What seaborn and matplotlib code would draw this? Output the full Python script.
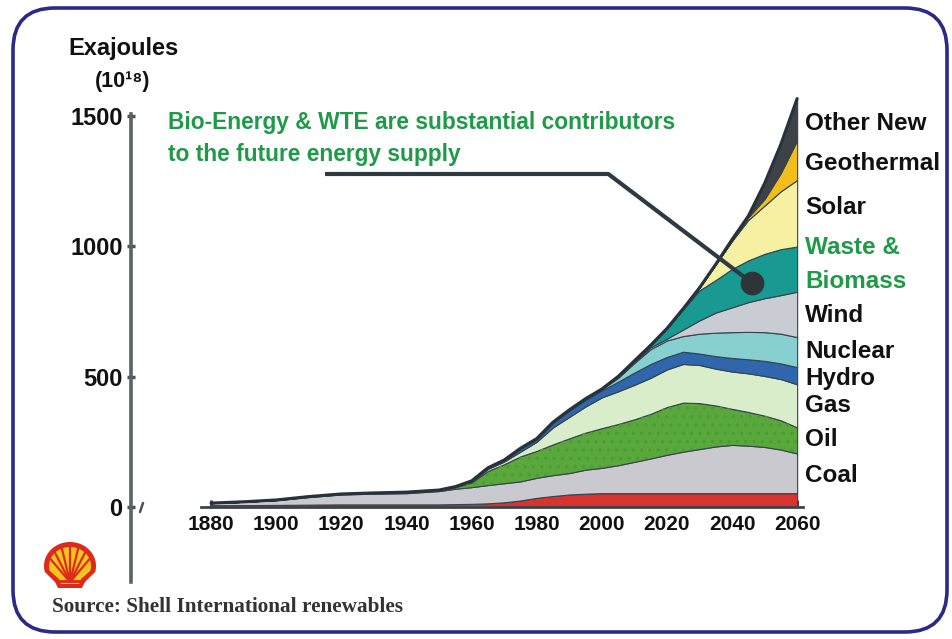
import matplotlib
matplotlib.use("Agg")
import matplotlib.pyplot as plt
import numpy as np
import pandas as pd
import seaborn as sns
from matplotlib.patches import FancyBboxPatch, Polygon

# ---- data (exajoules) -------------------------------------------------
years = [1880, 1890, 1900, 1910, 1920, 1930, 1940, 1950, 1955, 1960, 1965, 1970,
         1975, 1980, 1985, 1990, 1995, 2000, 2005, 2010, 2015, 2020, 2025, 2030,
         2035, 2040, 2045, 2050, 2055, 2060]

traditional = [7, 7, 8, 9, 10, 10, 10, 10, 11, 12, 14, 18, 25, 35, 42, 48, 51, 53,
               53, 53, 53, 53, 53, 53, 53, 53, 53, 53, 53, 53]
coal = [8, 13, 18, 29, 38, 41, 43, 51, 59, 64, 70, 73, 73, 77, 80, 82, 92, 97,
        107, 120, 133, 147, 159, 169, 179, 185, 182, 177, 167, 152]
oil = [0, 0, 1, 2, 2, 3, 4, 4, 6, 18, 54, 73, 96, 103, 118, 133, 142, 152,
       158, 163, 171, 183, 188, 176, 157, 138, 129, 120, 112, 100]
gas = [0, 0, 0, 0, 0, 0, 0, 0, 1, 3, 8, 10, 18, 35, 65, 82, 100, 118,
       125, 132, 138, 144, 148, 146, 141, 143, 148, 152, 158, 165]
hydro = [0, 0, 0, 0, 0, 0, 0, 0, 1, 2, 3, 4, 10, 9, 17, 24, 25, 27,
         37, 47, 53, 48, 47, 44, 48, 52, 54, 58, 60, 66]
nuclear = [0, 0, 0, 0, 0, 0, 0, 0, 0, 1, 1, 2, 3, 3, 3, 3, 5, 5,
           15, 37, 57, 63, 60, 76, 90, 99, 105, 110, 114, 115]
wind = [0, 0, 0, 0, 0, 0, 0, 0, 0, 0, 0, 0, 0, 0, 0, 0, 0, 0,
        2, 3, 7, 7, 25, 51, 77, 95, 114, 130, 148, 174]
biomass = [0, 0, 0, 0, 0, 0, 0, 0, 0, 0, 0, 0, 0, 0, 0, 0, 0, 0,
           3, 5, 8, 39, 78, 115, 125, 147, 160, 170, 176, 173]
solar = [0, 0, 0, 0, 0, 0, 0, 0, 0, 0, 0, 0, 0, 0, 0, 0, 0, 0,
         0, 0, 0, 0, 2, 10, 60, 108, 155, 185, 222, 255]
geothermal = [0, 0, 0, 0, 0, 0, 0, 0, 0, 0, 0, 0, 0, 0, 0, 0, 0, 0,
              0, 0, 0, 0, 0, 0, 0, 0, 10, 25, 70, 152]
other_new = [0, 0, 0, 0, 0, 0, 0, 0, 0, 0, 0, 0, 0, 0, 0, 0, 0, 0,
             0, 0, 0, 0, 0, 0, 0, 5, 5, 60, 110, 160]

x_ticks = [1880, 1900, 1920, 1940, 1960, 1980, 2000, 2020, 2040, 2060]
y_ticks = [0, 500, 1000, 1500]

layers = [traditional, coal, oil, gas, hydro, nuclear, wind, biomass,
          solar, geothermal, other_new]
colors = ["#d8332f", "#c9c9cf", "#5aa83c", "#d9edcb", "#2f66ac", "#88cfd0",
          "#c9ccd3", "#189a93", "#f5f0a2", "#f1be1c", "#3d4247"]

df = pd.DataFrame({"year": years})
df["total"] = np.sum(np.array(layers), axis=0)

# ---- figure -----------------------------------------------------------
sns.set_theme(style="white")
plt.rcParams["font.family"] = ["Liberation Sans", "DejaVu Sans"]
plt.rcParams["hatch.linewidth"] = 1.2

W, H = 953, 639
fig = plt.figure(figsize=(W / 100, H / 100), dpi=100)
fig.patch.set_facecolor("white")

ax = fig.add_axes([131 / W, (H - 582) / H, 672 / W, 491 / H])
ax.patch.set_alpha(0)
ax.set_xlim(1855.4, 2061.8)
ax.set_ylim(-287.4, 1594)

ax.stackplot(years, *layers, colors=colors, edgecolor="#34434d", linewidth=0.8)
# mottled texture on the oil band
ax.fill_between(years, np.sum(layers[:2], axis=0), np.sum(layers[:3], axis=0),
                facecolor="none", edgecolor="#4a9d33", hatch="..", linewidth=0)

sns.lineplot(data=df, x="year", y="total", ax=ax, color="#27323b",
             linewidth=2.2, legend=False)

# axes styling
for s in ["top", "right"]:
    ax.spines[s].set_visible(False)
ax.spines["left"].set_bounds(-287, 1505)
ax.spines["left"].set_color("#5b6167")
ax.spines["left"].set_linewidth(2.6)
ax.spines["bottom"].set_position(("data", 0))
ax.spines["bottom"].set_bounds(1877, 2061.8)
ax.spines["bottom"].set_color("#3c444b")
ax.spines["bottom"].set_linewidth(2.0)

ax.set_xticks(x_ticks)
ax.set_xticklabels([str(t) for t in x_ticks], fontsize=15, fontweight="bold",
                   color="#111111")
ax.set_yticks(y_ticks)
ax.set_yticklabels([str(t) for t in y_ticks], fontsize=17, fontweight="bold",
                   color="#111111")
ax.tick_params(axis="x", direction="in", length=5, width=2.2, color="#3c444b",
               pad=6, bottom=True)
ax.tick_params(axis="y", direction="inout", length=6, width=2.5,
               color="#4b5157", pad=3, left=True)
ax.set_xlabel("")
ax.set_ylabel("")
ax.grid(False)

# callout pointing to the waste & biomass band
ax.plot([1915, 2002, 2046.2], [1276, 1276, 858], color="#2d3a44",
        linewidth=3, solid_capstyle="butt", clip_on=False, zorder=5)
ax.scatter([2046.2], [858], s=260, color="#2f3438", zorder=6, clip_on=False)

# ---- overlay in pixel coordinates for labels and frame ----------------
ov = fig.add_axes([0, 0, 1, 1], zorder=10)
ov.set_xlim(0, W)
ov.set_ylim(H, 0)
ov.axis("off")

frame = FancyBboxPatch((13, 8), 934, 624,
                       boxstyle="round,pad=0,rounding_size=42",
                       facecolor="none", edgecolor="#2b2a86", linewidth=2.6)
ov.add_patch(frame)

ov.text(68, 48, "Exajoules", fontsize=17, fontweight="bold", ha="left",
        va="center", color="#111111")
ov.text(95, 82, "(10\u00b9\u2078)", fontsize=15.5, fontweight="bold", ha="left",
        va="center", color="#111111")

green = "#1f9a48"
ov.text(168, 122, "Bio-Energy & WTE are substantial contributors",
        fontsize=16.4, fontweight="bold", color=green, ha="left", va="center")
ov.text(168, 155, "to the future energy supply",
        fontsize=16.4, fontweight="bold", color=green, ha="left", va="center")

right_labels = [("Other New", 124), ("Geothermal", 163), ("Solar", 207),
                ("Waste &", 248), ("Biomass", 282), ("Wind", 315),
                ("Nuclear", 352), ("Hydro", 378), ("Gas", 406),
                ("Oil", 440), ("Coal", 476)]
for txt, yy in right_labels:
    col = green if txt in ("Waste &", "Biomass") else "#111111"
    ov.text(805, yy, txt, fontsize=17.5, fontweight="bold", color=col,
            ha="left", va="center")

# small break mark beside the zero tick
ov.plot([143, 140], [503, 512], color="#4b5157", linewidth=1.8)

ov.text(52, 607, "Source: Shell International renewables",
        family=["Liberation Serif", "DejaVu Serif"], fontsize=15.3,
        fontweight="bold", color="#333333", ha="left", va="center")

# shell emblem
cx, cy = 70, 566
ang = np.linspace(np.pi * 1.08, -np.pi * 0.08, 60)
outer = [(cx + 26 * np.cos(a), cy - 24 * np.sin(a)) for a in ang]
outer += [(cx + 15, cy + 16), (cx + 12, cy + 22), (cx - 12, cy + 22), (cx - 15, cy + 16)]
ov.add_patch(Polygon(outer, closed=True, facecolor="#dd2a1b", edgecolor="none"))
inner = [(cx + 21 * np.cos(a), cy - 19 * np.sin(a)) for a in ang]
inner += [(cx + 11, cy + 13), (cx + 9, cy + 18), (cx - 9, cy + 18), (cx - 11, cy + 13)]
ov.add_patch(Polygon(inner, closed=True, facecolor="#f7c51c", edgecolor="none"))
for a in np.linspace(np.pi * 0.12, np.pi * 0.88, 7):
    ov.plot([cx, cx + 21 * np.cos(a)], [cy + 16, cy - 19 * np.sin(a)],
            color="#dd2a1b", linewidth=1.6, solid_capstyle="round")
ov.plot([cx - 12, cx + 12], [cy + 15, cy + 15], color="#dd2a1b", linewidth=2)

fig.savefig("out.png", dpi=100, facecolor="white")
